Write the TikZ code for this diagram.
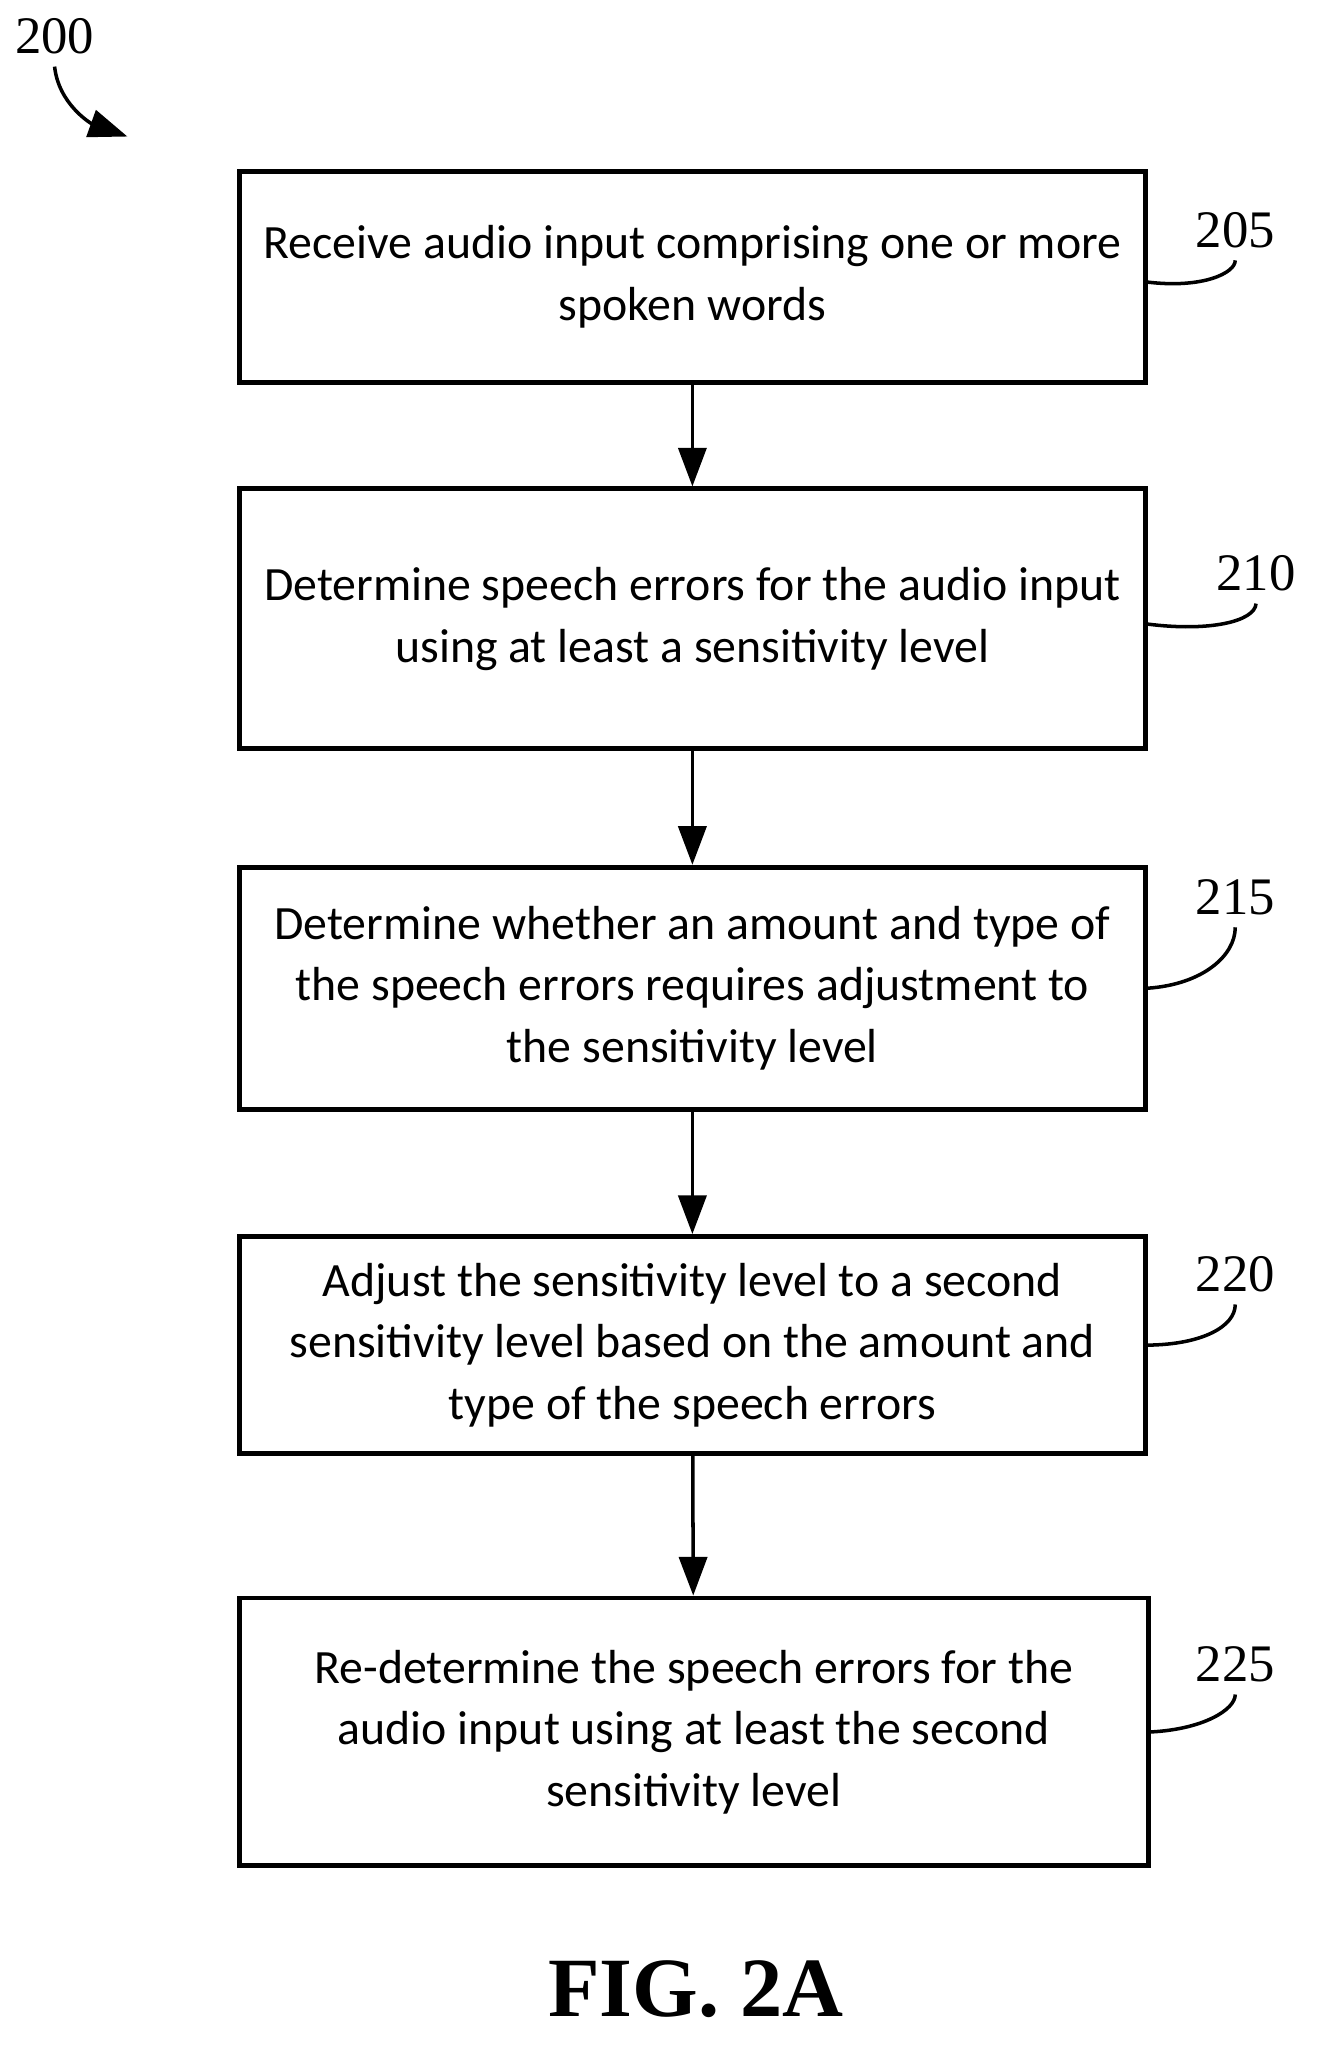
\documentclass[tikz,border=0pt]{standalone}
\usepackage{fontspec}
\setmainfont{Carlito}
\newfontfamily\refnum{Liberation Serif}
\usetikzlibrary{arrows.meta,calc}
\begin{document}
\begin{tikzpicture}[x=0.013cm, y=-0.013cm,
    box/.style={draw, line width=1.4pt, align=center, font=\fontsize{13.6}{17.5}\selectfont, inner sep=0pt},
    arrow/.style={-{Triangle[length=11pt, width=8pt]}, line width=1pt},
    ref/.style={font=\refnum\fontsize{15}{18}\selectfont},
    lead/.style={line width=1pt}
]
\useasboundingbox (0,0) rectangle (1024,1592);

% Steps
\node[box, minimum width=697*0.013cm, minimum height=162*0.013cm] (s205) at (532.5,213) {Receive audio input comprising one or more\\spoken words};
\node[box, minimum width=697*0.013cm, minimum height=200*0.013cm] (s210) at (532.5,476) {Determine speech errors for the audio input\\using at least a sensitivity level};
\node[box, minimum width=697*0.013cm, minimum height=186*0.013cm] (s215) at (532.5,760) {Determine whether an amount and type of\\the speech errors requires adjustment to\\the sensitivity level};
\node[box, minimum width=697*0.013cm, minimum height=167*0.013cm] (s220) at (532.5,1034.5) {Adjust the sensitivity level to a second\\sensitivity level based on the amount and\\type of the speech errors};
\node[box, minimum width=699*0.013cm, minimum height=206*0.013cm] (s225) at (533.5,1332) {Re-determine the speech errors for the\\audio input using at least the second\\sensitivity level};

% Arrows
\draw[arrow] (s205) -- (s210);
\draw[arrow] (s210) -- (s215);
\draw[arrow] (s215) -- (s220);
\draw[arrow] (s220) -- (s225);

% Reference numerals
\node[ref] (n205) at (950,177) {205};
\node[ref] (n210) at (966,441) {210};
\node[ref] (n215) at (950,690) {215};
\node[ref] (n220) at (950,980) {220};
\node[ref] (n225) at (950,1280) {225};
\node[ref] (n200) at (42,28) {200};

\draw[lead] ($(s205.north east)!0.5!(s205.south east)$) ++(0,4) .. controls (925,222) and (950,210) .. (n205.south);
\draw[lead] ($(s210.north east)!0.5!(s210.south east)$) ++(0,4) .. controls (930,486) and (965,478) .. (n210.south);
\draw[lead] ($(s215.north east)!0.5!(s215.south east)$) .. controls (925,757) and (950,735) .. (n215.south);
\draw[lead] ($(s220.north east)!0.5!(s220.south east)$) .. controls (925,1034) and (950,1020) .. (n220.south);
\draw[lead] ($(s225.north east)!0.5!(s225.south east)$) .. controls (925,1330) and (950,1315) .. (n225.south);
\draw[arrow] (n200.south) .. controls (45,80) and (70,95) .. (98,105);

% Caption
\node[font=\refnum\bfseries\fontsize{24}{28}\selectfont] (fig) at (535,1530) {FIG. 2A};
\end{tikzpicture}
\end{document}
